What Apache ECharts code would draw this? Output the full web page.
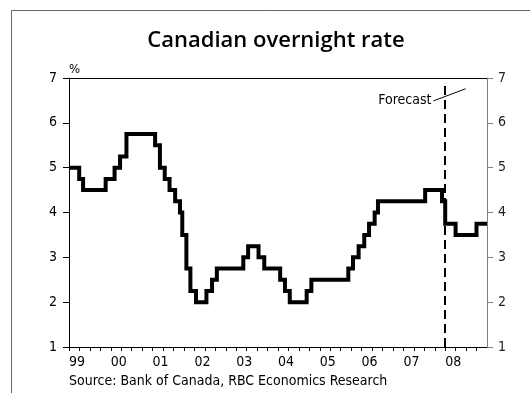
<!DOCTYPE html>
<html>
<head>
<meta charset="utf-8">
<script src="https://cdn.jsdelivr.net/npm/echarts@6/dist/echarts.min.js"></script>
<style>
  html, body { margin: 0; padding: 0; background: #fff; }
  #chart { width: 530px; height: 393px; }
</style>
</head>
<body>
<div id="chart"></div>
<script>
// Bank of Canada target for the overnight rate: dates of each change and the new level (%)
const changeDates = [
  '1999-01-01', '1999-03-31', '1999-05-04', '1999-11-17',
  '2000-02-03', '2000-03-22', '2000-05-17',
  '2001-01-23', '2001-03-06', '2001-04-17', '2001-05-29', '2001-07-17',
  '2001-08-28', '2001-09-17', '2001-10-23', '2001-11-27',
  '2002-01-15', '2002-04-16', '2002-06-04', '2002-07-16',
  '2003-03-04', '2003-04-15', '2003-07-15', '2003-09-03',
  '2004-01-20', '2004-03-02', '2004-04-13', '2004-09-08', '2004-10-19',
  '2005-09-07', '2005-10-18', '2005-12-06',
  '2006-01-24', '2006-03-07', '2006-04-25', '2006-05-24',
  '2007-07-10', '2007-12-04'
];
const overnightRate = [
  5.00, 4.75, 4.50, 4.75,
  5.00, 5.25, 5.75,
  5.50, 5.00, 4.75, 4.50, 4.25,
  4.00, 3.50, 2.75, 2.25,
  2.00, 2.25, 2.50, 2.75,
  3.00, 3.25, 3.00, 2.75,
  2.50, 2.25, 2.00, 2.25, 2.50,
  2.75, 3.00, 3.25,
  3.50, 3.75, 4.00, 4.25,
  4.50, 4.25
];

// Forecast path (quarterly)
const forecastDates = ['2008-01-01', '2008-04-01', '2008-10-01', '2009-01-01'];
const forecastRate = [3.75, 3.50, 3.75, 3.75];

const forecastStart = '2008-01-01';
const yearLabels = ['99', '00', '01', '02', '03', '04', '05', '06', '07', '08'];
const firstYear = 1999;
const lastYear = 2009;

// ISO date -> fractional year, so quarters fall on a 0.25 grid
function toYear(s) {
  const [y, m, d] = s.split('-').map(Number);
  const t = Date.UTC(y, m - 1, d), a = Date.UTC(y, 0, 1), b = Date.UTC(y + 1, 0, 1);
  return y + (t - a) / (b - a);
}

const seriesData = changeDates.map((d, i) => [toYear(d), overnightRate[i]])
  .concat(forecastDates.map((d, i) => [toYear(d), forecastRate[i]]));

const FONT = "'DejaVu Sans Condensed', 'Liberation Sans Narrow', sans-serif";
const FS = 14;

const chart = echarts.init(document.getElementById('chart'), null, { renderer: 'canvas' });

const yAxisBase = {
  type: 'value', min: 1, max: 7, interval: 1,
  splitLine: { show: false },
  axisTick: { show: true, inside: false, length: 6 },
  axisLabel: { fontFamily: FONT, fontSize: FS, color: '#000' }
};

chart.setOption({
  backgroundColor: '#fff',
  animation: false,
  grid: { left: 69, right: 43, top: 78, bottom: 46 },
  xAxis: [{
    type: 'value', min: firstYear, max: lastYear, interval: 0.25,
    splitLine: { show: false },
    axisLine: { lineStyle: { color: '#000', width: 1 } },
    axisTick: { show: true, inside: false, length: 4, lineStyle: { color: '#000' } },
    axisLabel: {
      fontFamily: FONT, fontSize: FS, color: '#000', align: 'left', margin: 8,
      showMaxLabel: false,
      formatter: function (v) {
        const r = Math.round(v);
        const i = r - firstYear;
        if (Math.abs(v - r) < 1e-6 && i >= 0 && i < yearLabels.length) return yearLabels[i];
        return '';
      }
    }
  }, {
    type: 'value', min: firstYear, max: lastYear, position: 'top',
    axisLine: { lineStyle: { color: '#000', width: 1 } },
    axisTick: { show: false }, axisLabel: { show: false }, splitLine: { show: false }
  }],
  yAxis: [
    Object.assign({}, yAxisBase, {
      position: 'left',
      axisLine: { show: true, lineStyle: { color: '#000' } },
      axisTick: { show: true, inside: false, length: 6, lineStyle: { color: '#000' } },
      axisLabel: Object.assign({}, yAxisBase.axisLabel, { margin: 12 })
    }),
    Object.assign({}, yAxisBase, {
      position: 'right',
      axisLine: { show: true, lineStyle: { color: '#808080' } },
      axisTick: { show: true, inside: false, length: 6, lineStyle: { color: '#808080' } },
      axisLabel: Object.assign({}, yAxisBase.axisLabel, { margin: 11, color: '#222' })
    })
  ],
  series: [{
    type: 'line',
    name: 'Overnight rate',
    data: seriesData,
    step: 'end',
    showSymbol: false,
    lineStyle: { color: '#000', width: 4, join: 'miter', cap: 'butt' },
    markLine: {
      silent: true, symbol: 'none',
      label: { show: false },
      lineStyle: { color: '#000', width: 2, type: [9, 5] },
      data: [[{ coord: [toYear(forecastStart), 1] }, { coord: [toYear(forecastStart), 6.92] }]]
    }
  }]
});

// Frame, title, unit, source and the forecast call-out
const fx = toYear(forecastStart);
const p1 = chart.convertToPixel({ gridIndex: 0 }, [fx - 0.28, 6.49]);
const p2 = chart.convertToPixel({ gridIndex: 0 }, [fx + 0.49, 6.76]);

chart.setOption({
  graphic: [
    { type: 'rect', shape: { x: 11.5, y: 10.5, width: 600, height: 500 },
      style: { fill: 'none', stroke: '#666', lineWidth: 1 }, silent: true },
    { type: 'text', x: 276, y: 41,
      style: { text: 'Canadian overnight rate', font: "600 22px 'Open Sans', sans-serif",
               fill: '#000', textAlign: 'center', textVerticalAlign: 'middle' } },
    { type: 'text', x: 69, y: 70,
      style: { text: '%', font: '13px ' + FONT, fill: '#000', textAlign: 'left', textVerticalAlign: 'middle' } },
    { type: 'text', x: 69, y: 381,
      style: { text: 'Source: Bank of Canada, RBC Economics Research', font: FS + 'px ' + FONT,
               fill: '#000', textAlign: 'left', textVerticalAlign: 'middle' } },
    { type: 'text', x: p1[0] - 2, y: p1[1] - 1,
      style: { text: 'Forecast', font: FS + 'px ' + FONT, fill: '#000', textAlign: 'right', textVerticalAlign: 'middle' } },
    { type: 'line', shape: { x1: p1[0], y1: p1[1], x2: p2[0], y2: p2[1] },
      style: { stroke: '#000', lineWidth: 1 } }
  ]
});
</script>
</body>
</html>
